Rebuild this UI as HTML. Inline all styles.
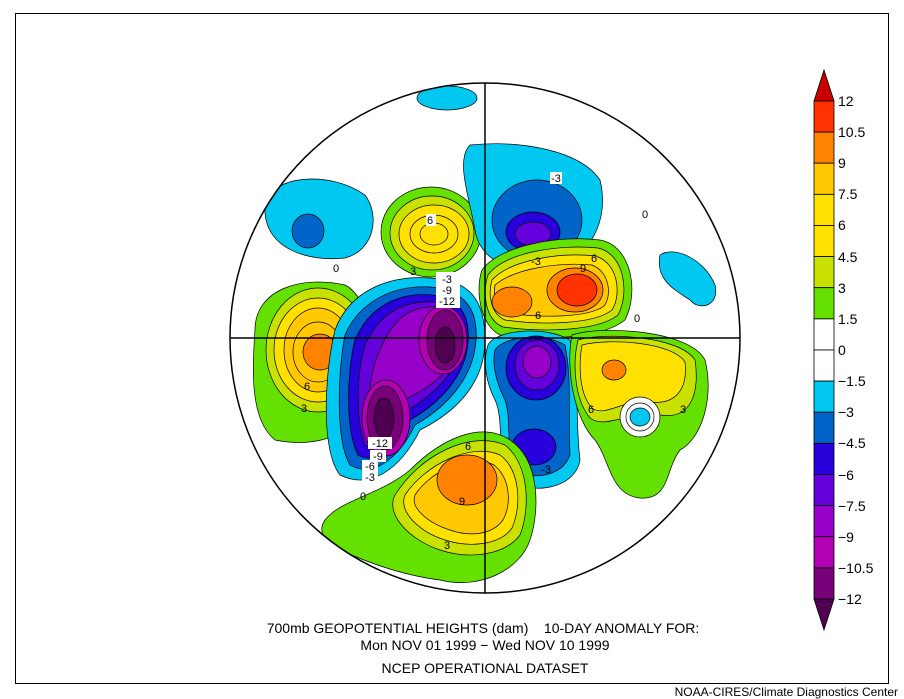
<!DOCTYPE html>
<html><head><meta charset="utf-8"><style>
html,body{margin:0;padding:0;background:#fff;}
svg{display:block;font-family:"Liberation Sans",sans-serif;}
</style></head><body>
<svg width="904" height="699" viewBox="0 0 904 699" xmlns="http://www.w3.org/2000/svg">
<rect x="0" y="0" width="904" height="699" fill="#fff"/>
<rect x="15.5" y="13.5" width="873" height="670" fill="none" stroke="#000" stroke-width="1"/>
<defs><clipPath id="c"><circle cx="485" cy="338" r="255"/></clipPath></defs>
<g clip-path="url(#c)" stroke="#000" stroke-width="0.7">
<ellipse cx="447" cy="98" rx="30" ry="12" fill="#00c8f0"/>
<path d="M265,205 C270,175 330,170 365,195 C380,215 375,250 345,258 C310,262 262,250 265,205Z" fill="#00c8f0"/>
<ellipse cx="308" cy="231" rx="16" ry="17" fill="#0064c8"/>
<ellipse cx="431" cy="232" rx="50" ry="45" fill="#64e100"/>
<ellipse cx="432" cy="233" rx="42" ry="37" fill="#c8e100"/>
<ellipse cx="434" cy="234" rx="35" ry="29" fill="#ffe100"/>
<ellipse cx="434" cy="234" rx="24" ry="19" fill="none"/>
<ellipse cx="434" cy="234" rx="14" ry="11" fill="none"/>
<path d="M255,330 C255,290 300,275 345,285 C375,300 375,370 360,410 C345,445 300,445 275,440 C250,420 252,370 255,330Z" fill="#64e100"/>
<ellipse cx="318" cy="350" rx="52" ry="62" fill="#c8e100"/>
<ellipse cx="318" cy="350" rx="44" ry="52" fill="#ffe100"/>
<ellipse cx="318" cy="350" rx="34" ry="42" fill="#ffc800"/>
<ellipse cx="318" cy="352" rx="25" ry="30" fill="none"/>
<ellipse cx="320" cy="352" rx="17" ry="18" fill="#ff8200"/>
<path d="M335,330 C350,290 390,275 430,278 C470,280 485,300 485,340 C485,380 460,410 420,430 C400,470 370,490 340,475 C320,450 325,370 335,330Z" fill="#00c8f0"/>
<path d="M345,335 C360,300 395,285 430,287 C465,290 478,310 476,340 C474,375 450,405 415,425 C398,460 372,478 350,465 C335,440 338,370 345,335Z" fill="#0064c8"/>
<path d="M355,340 C370,305 400,292 432,295 C460,298 470,315 468,342 C466,372 445,400 410,420 C395,450 375,465 358,455 C345,430 347,370 355,340Z" fill="#2800dc"/>
<path d="M365,345 C380,312 405,300 435,302 C458,305 462,320 460,345 C458,370 438,392 405,412 C392,440 377,452 365,445 C355,420 357,370 365,345Z" fill="#6400dc"/>
<path d="M380,350 C392,320 410,305 438,307 C455,310 456,330 455,350 C452,372 430,388 400,402 C390,428 380,438 372,432 C365,410 370,370 380,350Z" fill="#9600c8"/>
<ellipse cx="443" cy="340" rx="24" ry="34" fill="#b400b4"/>
<ellipse cx="386" cy="418" rx="24" ry="38" fill="#b400b4"/>
<ellipse cx="445" cy="340" rx="18" ry="30" fill="#780078"/>
<ellipse cx="385" cy="418" rx="18" ry="32" fill="#780078"/>
<ellipse cx="445" cy="345" rx="10" ry="18" fill="#500050"/>
<ellipse cx="384" cy="418" rx="10" ry="20" fill="#500050"/>
<path d="M470,145 C520,140 580,150 600,180 C610,220 590,260 550,268 C510,275 480,260 475,230 C470,200 455,160 470,145Z" fill="#00c8f0"/>
<ellipse cx="537" cy="220" rx="45" ry="40" fill="#0064c8"/>
<ellipse cx="533" cy="232" rx="27" ry="20" fill="#2800dc"/>
<ellipse cx="533" cy="234" rx="18" ry="12" fill="#6400dc"/>
<path d="M482,270 C500,245 560,235 600,240 C630,245 640,290 625,320 C600,340 540,340 500,335 C480,325 475,290 482,270Z" fill="#64e100"/>
<path d="M488,275 C505,252 560,244 598,248 C624,254 630,292 618,315 C597,332 540,332 503,327 C485,320 482,292 488,275Z" fill="#c8e100"/>
<path d="M492,280 C510,260 560,252 595,256 C618,262 622,294 612,310 C593,325 540,325 505,320 C490,313 488,294 492,280Z" fill="#ffe100"/>
<path d="M495,285 C515,268 560,262 592,265 C610,272 612,296 604,306 C588,318 540,318 508,313 C495,307 493,296 495,285Z" fill="#ffc800"/>
<ellipse cx="512" cy="302" rx="20" ry="15" fill="#ff8200"/>
<ellipse cx="575" cy="290" rx="28" ry="22" fill="#ff8200"/>
<ellipse cx="577" cy="290" rx="20" ry="16" fill="#ff3200"/>
<path d="M488,345 C495,330 545,325 570,340 C580,380 575,420 580,460 C575,490 530,495 512,480 C495,460 505,420 495,400 C485,380 483,360 488,345Z" fill="#00c8f0"/>
<path d="M495,350 C505,335 545,333 565,345 C572,380 568,410 570,455 C562,478 530,480 515,470 C505,450 512,420 505,400 C495,380 492,362 495,350Z" fill="#0064c8"/>
<ellipse cx="536" cy="368" rx="30" ry="32" fill="#2800dc"/>
<ellipse cx="534" cy="447" rx="22" ry="18" fill="#2800dc"/>
<ellipse cx="537" cy="365" rx="22" ry="25" fill="#6400dc"/>
<ellipse cx="537" cy="362" rx="14" ry="16" fill="#9600c8"/>
<path d="M572,335 C600,325 690,330 705,360 C715,400 700,440 680,450 C665,470 670,500 640,498 C610,495 610,460 595,440 C575,420 565,370 572,335Z" fill="#64e100"/>
<path d="M578,340 C605,332 680,336 695,360 C700,395 690,420 660,415 C630,410 605,430 590,418 C575,400 572,365 578,340Z" fill="#c8e100"/>
<path d="M582,345 C610,338 672,342 685,362 C688,390 675,405 650,402 C625,398 605,418 592,408 C580,395 578,368 582,345Z" fill="#ffe100"/>
<ellipse cx="614" cy="370" rx="12" ry="10" fill="#ff8200"/>
<circle cx="640" cy="417" r="20" fill="#fff"/>
<circle cx="640" cy="417" r="14" fill="none"/>
<ellipse cx="640" cy="417" rx="10" ry="9" fill="#00c8f0"/>
<path d="M660,255 C675,245 705,260 715,285 C720,305 700,312 690,300 C675,290 655,280 660,255Z" fill="#00c8f0"/>
<path d="M325,520 C340,500 380,495 410,470 C440,440 480,420 510,440 C540,460 540,510 530,540 C520,570 480,590 440,580 C400,575 360,560 330,545 C320,535 320,527 325,520Z" fill="#64e100"/>
<path d="M395,495 C420,455 470,430 505,445 C530,465 530,510 520,535 C505,555 470,560 440,550 C410,540 385,515 395,495Z" fill="#c8e100"/>
<path d="M405,495 C425,465 470,442 500,455 C520,470 522,505 512,528 C500,545 470,548 445,540 C420,532 398,512 405,495Z" fill="#ffe100"/>
<path d="M415,495 C430,472 468,452 494,465 C510,478 512,503 503,520 C492,535 470,537 450,530 C428,523 410,508 415,495Z" fill="#ffc800"/>
<ellipse cx="467" cy="480" rx="30" ry="25" fill="#ff8200"/>
</g>
<g stroke="#000" fill="none" stroke-width="1.5">
<line x1="230" y1="338" x2="740" y2="338"/>
<line x1="485" y1="83" x2="485" y2="593"/>
<circle cx="485" cy="338" r="255"/>
</g>
<g font-size="11" text-anchor="middle">
<rect x="550" y="172" width="12" height="12" fill="#fff"/><text x="556" y="182">-3</text>
<rect x="426" y="214" width="10" height="12" fill="#fff"/><text x="430" y="224">6</text>
<text x="307" y="390">6</text>
<text x="304" y="412">3</text><text x="413" y="275">3</text>
<text x="538" y="319">6</text><text x="583" y="272">9</text><text x="594" y="262">6</text>
<text x="591" y="413">6</text><text x="683" y="413">3</text>
<text x="468" y="450">6</text><text x="462" y="505">9</text><text x="447" y="549">3</text>
<text x="546" y="473">-3</text><text x="536" y="265">-3</text>
<g fill="#000"><rect x="368" y="437" width="24" height="12" fill="#fff"/><text x="380" y="447">-12</text>
<rect x="370" y="450" width="16" height="12" fill="#fff"/><text x="378" y="460">-9</text>
<rect x="362" y="460" width="16" height="12" fill="#fff"/><text x="370" y="470">-6</text>
<rect x="362" y="471" width="16" height="12" fill="#fff"/><text x="370" y="481">-3</text>
<rect x="436" y="272" width="24" height="36" fill="#fff"/><text x="447" y="283">-3</text><text x="447" y="294">-9</text><text x="447" y="305">-12</text></g>
<text x="363" y="500">0</text><text x="336" y="272">0</text><text x="645" y="218">0</text><text x="637" y="322">0</text>
</g>
<g stroke="#000" stroke-width="0.8">
<polygon points="814,101 834,101 824,70" fill="#c80000"/>
<rect x="814" y="101" width="20" height="31.1" fill="#ff3200"/>
<rect x="814" y="132.1" width="20" height="31.1" fill="#ff8200"/>
<rect x="814" y="163.2" width="20" height="31.1" fill="#ffc800"/>
<rect x="814" y="194.4" width="20" height="31.1" fill="#ffe100"/>
<rect x="814" y="225.5" width="20" height="31.1" fill="#ffe100"/>
<rect x="814" y="256.6" width="20" height="31.1" fill="#c8e100"/>
<rect x="814" y="287.7" width="20" height="31.1" fill="#64e100"/>
<rect x="814" y="318.9" width="20" height="31.1" fill="#fff"/>
<rect x="814" y="350" width="20" height="31.1" fill="#fff"/>
<rect x="814" y="381.1" width="20" height="31.1" fill="#00c8f0"/>
<rect x="814" y="412.2" width="20" height="31.1" fill="#0064c8"/>
<rect x="814" y="443.4" width="20" height="31.1" fill="#2800dc"/>
<rect x="814" y="474.5" width="20" height="31.1" fill="#6400dc"/>
<rect x="814" y="505.6" width="20" height="31.1" fill="#9600c8"/>
<rect x="814" y="536.7" width="20" height="31.1" fill="#b400b4"/>
<rect x="814" y="567.9" width="20" height="31.1" fill="#780078"/>
<polygon points="814,599 834,599 824,630" fill="#500050"/>
</g>
<g font-size="14" fill="#000">
<text x="838" y="106">12</text><text x="838" y="137">10.5</text><text x="838" y="168">9</text>
<text x="838" y="199">7.5</text><text x="838" y="230">6</text><text x="838" y="262">4.5</text>
<text x="838" y="293">3</text><text x="838" y="324">1.5</text><text x="838" y="355">0</text>
<text x="838" y="386">−1.5</text><text x="838" y="417">−3</text><text x="838" y="448">−4.5</text>
<text x="838" y="480">−6</text><text x="838" y="511">−7.5</text><text x="838" y="542">−9</text>
<text x="838" y="573">−10.5</text><text x="838" y="604">−12</text>
</g>
<g font-size="14" text-anchor="middle" fill="#000">
<text x="483" y="633" xml:space="preserve">700mb GEOPOTENTIAL HEIGHTS (dam)    10-DAY ANOMALY FOR:</text>
<text x="485" y="650">Mon NOV 01 1999 − Wed NOV 10 1999</text>
<text x="485" y="673">NCEP OPERATIONAL DATASET</text>
</g>
<text x="898" y="696" font-size="12" text-anchor="end">NOAA-CIRES/Climate Diagnostics Center</text>
</svg>
</body></html>
